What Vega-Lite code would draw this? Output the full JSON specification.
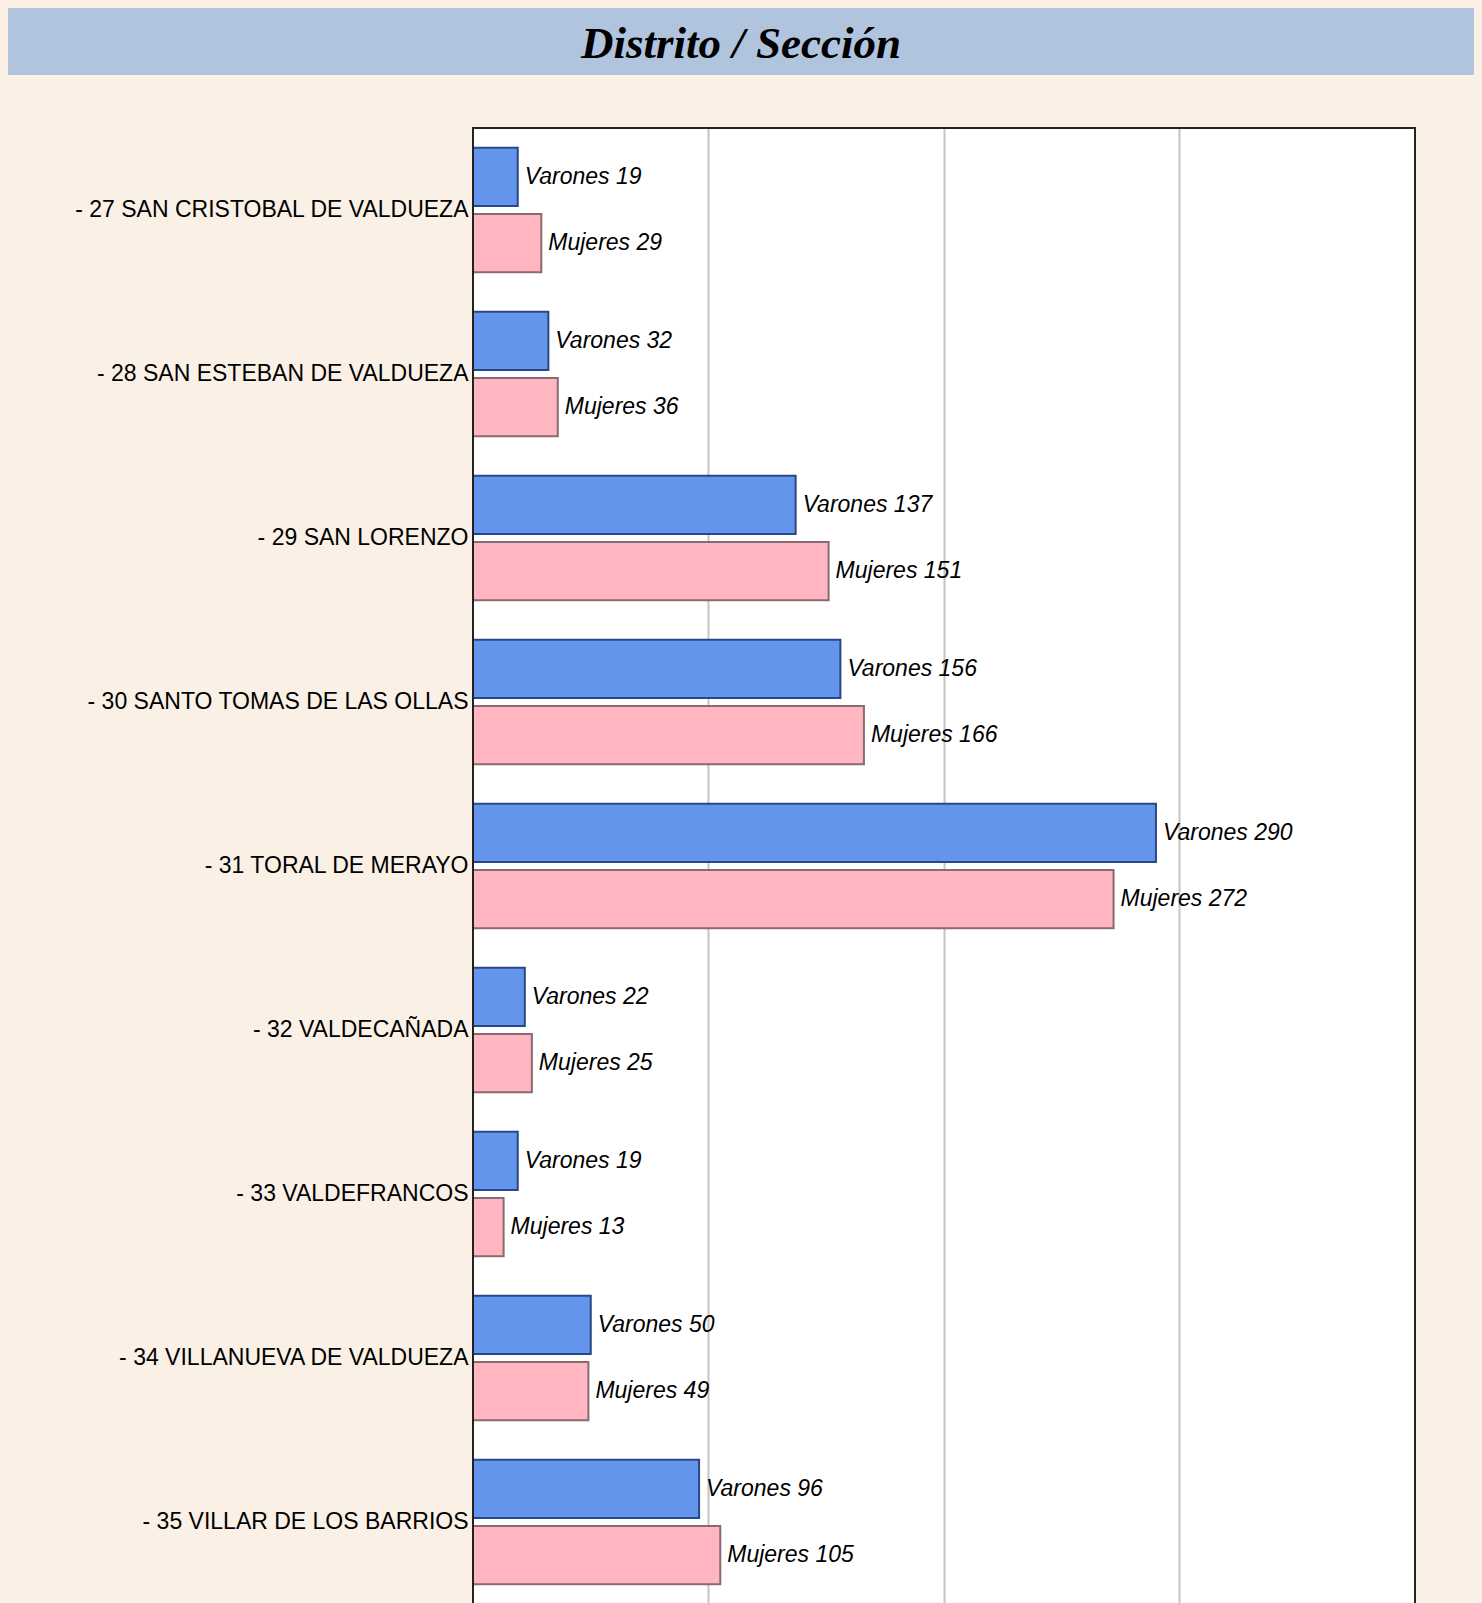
{
  "$schema": "https://vega.github.io/schema/vega-lite/v6.json",
  "background": "#FAF0E6",
  "padding": {"left": 8, "top": 8, "right": 8, "bottom": 0},
  "datasets": {
    "titulo": [{"texto": "Distrito / Sección"}],
    "poblacion": [
      {"seccion": "- 27 SAN CRISTOBAL DE VALDUEZA", "sexo": "Varones", "valor": 19, "etiqueta": "Varones 19"},
      {"seccion": "- 27 SAN CRISTOBAL DE VALDUEZA", "sexo": "Mujeres", "valor": 29, "etiqueta": "Mujeres 29"},
      {"seccion": "- 28 SAN ESTEBAN DE VALDUEZA", "sexo": "Varones", "valor": 32, "etiqueta": "Varones 32"},
      {"seccion": "- 28 SAN ESTEBAN DE VALDUEZA", "sexo": "Mujeres", "valor": 36, "etiqueta": "Mujeres 36"},
      {"seccion": "- 29 SAN LORENZO", "sexo": "Varones", "valor": 137, "etiqueta": "Varones 137"},
      {"seccion": "- 29 SAN LORENZO", "sexo": "Mujeres", "valor": 151, "etiqueta": "Mujeres 151"},
      {"seccion": "- 30 SANTO TOMAS DE LAS OLLAS", "sexo": "Varones", "valor": 156, "etiqueta": "Varones 156"},
      {"seccion": "- 30 SANTO TOMAS DE LAS OLLAS", "sexo": "Mujeres", "valor": 166, "etiqueta": "Mujeres 166"},
      {"seccion": "- 31 TORAL DE MERAYO", "sexo": "Varones", "valor": 290, "etiqueta": "Varones 290"},
      {"seccion": "- 31 TORAL DE MERAYO", "sexo": "Mujeres", "valor": 272, "etiqueta": "Mujeres 272"},
      {"seccion": "- 32 VALDECAÑADA", "sexo": "Varones", "valor": 22, "etiqueta": "Varones 22"},
      {"seccion": "- 32 VALDECAÑADA", "sexo": "Mujeres", "valor": 25, "etiqueta": "Mujeres 25"},
      {"seccion": "- 33 VALDEFRANCOS", "sexo": "Varones", "valor": 19, "etiqueta": "Varones 19"},
      {"seccion": "- 33 VALDEFRANCOS", "sexo": "Mujeres", "valor": 13, "etiqueta": "Mujeres 13"},
      {"seccion": "- 34 VILLANUEVA DE VALDUEZA", "sexo": "Varones", "valor": 50, "etiqueta": "Varones 50"},
      {"seccion": "- 34 VILLANUEVA DE VALDUEZA", "sexo": "Mujeres", "valor": 49, "etiqueta": "Mujeres 49"},
      {"seccion": "- 35 VILLAR DE LOS BARRIOS", "sexo": "Varones", "valor": 96, "etiqueta": "Varones 96"},
      {"seccion": "- 35 VILLAR DE LOS BARRIOS", "sexo": "Mujeres", "valor": 105, "etiqueta": "Mujeres 105"}
    ],
    "fondo": [{"zona": "etiquetas"}]
  },
  "spacing": 52,
  "vconcat": [
    {
      "data": {"name": "titulo"},
      "width": 1466,
      "height": 67,
      "view": {"fill": "#B0C4DE", "stroke": null},
      "mark": {"type": "text", "font": "Liberation Serif", "fontSize": 45, "fontWeight": "bold", "fontStyle": "italic", "color": "black", "align": "center", "baseline": "middle", "dy": 2},
      "encoding": {"text": {"field": "texto", "type": "nominal"}}
    },
    {
      "width": 1407,
      "height": 1476,
      "view": {"fill": "white", "stroke": null},
      "layer": [
        {
          "data": {"name": "fondo"},
          "mark": {"type": "rect", "color": "#FAF0E6"},
          "encoding": {
            "x": {"datum": -197.45, "type": "quantitative"},
            "x2": {"datum": 0}
          }
        },
        {
          "data": {"name": "poblacion"},
          "encoding": {
            "y": {
              "field": "seccion", "type": "nominal", "sort": null,
              "scale": {"paddingInner": 0, "paddingOuter": -0.0625, "align": 0},
              "axis": {"title": null, "labelFont": "Liberation Sans", "labelFontSize": 23, "labelColor": "black", "ticks": false, "domain": false, "labelPadding": 5, "labelLimit": 0, "offset": -465, "zindex": 1, "grid": false}
            },
            "yOffset": {"field": "sexo", "type": "nominal", "sort": ["Varones", "Mujeres"], "scale": {"paddingInner": 0.12, "paddingOuter": 0.3}},
            "x": {
              "field": "valor", "type": "quantitative",
              "scale": {"domain": [-197.45, 400], "nice": false, "zero": false},
              "axis": {"title": null, "labels": false, "ticks": false, "domain": false, "grid": true, "gridColor": "#c4c4c4", "gridWidth": 2, "values": [100, 200, 300]}
            }
          },
          "layer": [
            {
              "mark": {"type": "bar", "strokeWidth": 2, "clip": true},
              "encoding": {
                "x2": {"datum": 0},
                "color": {"field": "sexo", "type": "nominal", "scale": {"domain": ["Varones", "Mujeres"], "range": ["#6495ED", "#FFB6C1"]}, "legend": null},
                "stroke": {"field": "sexo", "type": "nominal", "scale": {"domain": ["Varones", "Mujeres"], "range": ["#2a4785", "#8a6a72"]}, "legend": null}
              }
            },
            {
              "mark": {"type": "text", "align": "left", "baseline": "middle", "dx": 7, "font": "Liberation Sans", "fontSize": 23, "fontStyle": "italic", "color": "black", "clip": true},
              "encoding": {"text": {"field": "etiqueta", "type": "nominal"}}
            }
          ]
        },
        {
          "data": {"name": "fondo"},
          "mark": {"type": "rect", "fill": null, "fillOpacity": 0, "stroke": "#222222", "strokeWidth": 2},
          "encoding": {
            "x": {"datum": 0, "type": "quantitative"},
            "x2": {"datum": 400}
          }
        }
      ]
    }
  ]
}
